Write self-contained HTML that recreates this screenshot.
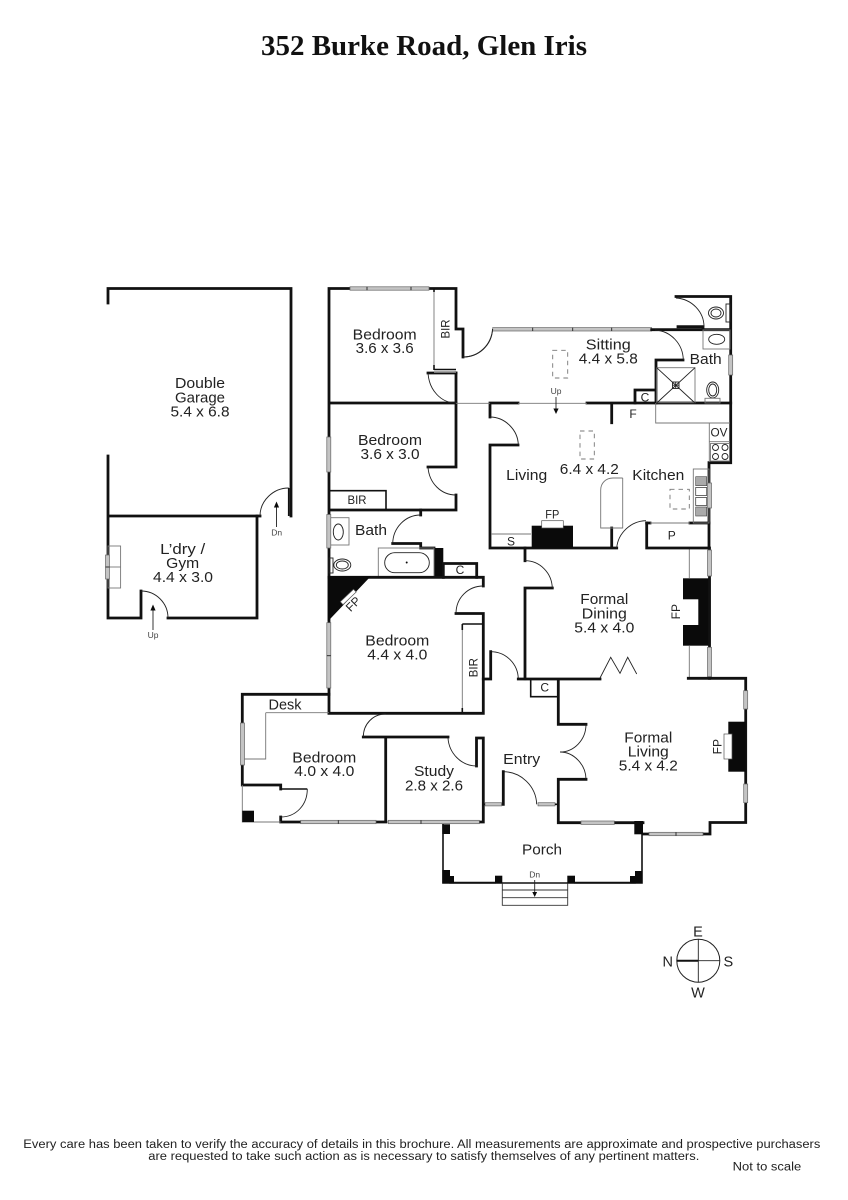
<!DOCTYPE html>
<html lang="en"><head><meta charset="utf-8"><title>352 Burke Road, Glen Iris</title>
<style>
html,body{margin:0;padding:0;background:#fff}
svg{display:block}
text{font-family:"Liberation Sans",sans-serif;fill:#222;text-anchor:middle}
.l{font-size:15px}
.s{font-size:8.5px;fill:#444}
.f{font-size:11.5px;text-anchor:start}
.w{fill:none;stroke:#111;stroke-width:2.8;stroke-linecap:square}
.t{fill:none;stroke:#111;stroke-width:1.6}
.g{fill:none;stroke:#777;stroke-width:.9}
.d{fill:none;stroke:#222;stroke-width:.9}
.dash{fill:none;stroke:#777;stroke-width:.9;stroke-dasharray:4.5 4}
.win{fill:#c4c4c4;stroke:#666;stroke-width:.7}
.b{fill:#0a0a0a}
.o{fill:#fff;stroke:#555;stroke-width:.7}
</style></head><body>
<svg xmlns="http://www.w3.org/2000/svg" width="848" height="1200" viewBox="0 0 848 1200">
<rect width="848" height="1200" fill="#fff"/>
<text x="424" y="55" textLength="326" lengthAdjust="spacingAndGlyphs" style="font-family:'Liberation Serif',serif;font-weight:bold;font-size:28px;fill:#111">352 Burke Road, Glen Iris</text>

<!-- garage + laundry -->
<path class="w" d="M108 303V288.5H291V516M108 456V618H141V591M168 618H257V516H108"/>
<path class="w" d="M257 516H260"/>
<path class="d" d="M288.7 488C273 488 260 501 260 516M141 591C156 591 168 603 168 618"/>
<path class="t" d="M288.7 488V516"/>
<rect class="g" x="108" y="546" width="12.6" height="42"/><path class="g" d="M108 567H120.6"/>
<rect class="win" x="105.5" y="555" width="4" height="24"/><path class="d" d="M105.5 567H109.5"/>
<path class="d" d="M276.5 506V527M153 609V630"/>
<path class="b" d="M276.5 501.5l-2.6 6h5.2zM153 604.5l-2.6 6h5.2z"/>

<!-- bedroom 1 / 2 west -->
<path class="w" d="M329 713V288.5H456V329H463V357M329 403H456V467H428M456 495V510H329M456 373H428"/>
<path class="w" d="M456 403V373"/>
<path class="g" d="M434 288.5V369M434 372.5H456"/>
<path class="t" d="M434 369.5H456M434 288.5V292M434 365V370"/>
<path class="d" d="M463 357C479 357 492 345 492.5 329M428 373C429 390 441 403 456 403M428 467C429 483 441 495 456 495"/>
<rect class="win" x="350" y="286.8" width="79" height="3.4"/><path class="d" d="M367 286.8v3.4M411 286.8v3.4"/>
<rect class="win" x="326.8" y="437" width="4" height="35"/>
<path class="t" d="M329 490.7H386V510"/>

<!-- bath -->
<path class="w" d="M420.7 510V515M392.7 543.5H420.7V548H434"/>
<path class="d" d="M420.7 515C405 515 393 528 392.7 543.5"/>
<rect class="b" x="434" y="548" width="9.3" height="29"/>
<rect class="g" x="378.3" y="548" width="55.7" height="28.5"/>
<rect class="d" x="384.7" y="552.7" width="44.6" height="20" rx="10"/>
<circle class="b" cx="406.7" cy="562.5" r="1"/>
<rect class="g" x="329" y="517.7" width="20" height="27.3"/>
<ellipse class="d" cx="338.3" cy="532" rx="5" ry="8"/>
<rect class="win" x="326.8" y="514.5" width="4" height="33.5"/>
<ellipse class="d" cx="342.3" cy="565" rx="8.5" ry="6"/><ellipse class="d" cx="342.3" cy="565" rx="6" ry="4"/>
<rect class="d" x="329" y="558" width="4" height="15"/>
<path class="w" d="M443.3 577.3V563.5H476.7V577.3"/>

<!-- bedroom 3 -->
<path class="w" d="M329 577.3H483.3V586M456 613.5H483.3V713.3H329"/>
<path class="d" d="M483.3 586C468 586 456 598 456 613.5"/>
<path class="g" d="M462.3 624V713"/>
<path class="t" d="M462.3 624H483M462.3 624V630M462.3 708V713"/>
<path class="b" d="M327.7 576H371L327.7 621.5z"/>
<path class="o" d="M340.3 601.7L353.5 589.2L356.2 592L343 604.6z"/>
<rect class="win" x="326.8" y="622.7" width="4" height="65.3"/><path class="d" d="M326.8 655.7h4"/>

<!-- bedroom 4 / desk -->
<path class="w" d="M329 694.3H242.3V785H280.7V789M280.7 817V822H300M376 822H386M385.7 737V822M363.3 737H448M479.3 822H483.3V738H476.5V766"/>
<path class="g" d="M265.7 712.7H329M265.7 712.7V759H243"/>
<path class="d" d="M385.7 714C373 714 363.3 724 363.3 737M448 738C449 753 461 766 476.7 766M280.7 817C296 817 307.3 805 307.3 789M503.3 771.7C521 771.7 536 786 536.7 804.3M490.7 651.7C506 651.7 518 664 518.3 679"/>
<path class="t" d="M280.7 789H307.3"/>
<path class="g" d="M242.3 785V822H280.7"/>
<rect class="b" x="242.3" y="810.7" width="11.7" height="11.3"/>
<rect class="win" x="240.5" y="723" width="4" height="42"/>
<rect class="win" x="300.7" y="820.3" width="75.3" height="3.4"/><path class="d" d="M338.3 820.3v3.4"/>
<rect class="win" x="388.3" y="820.3" width="91" height="3.4"/><path class="d" d="M421 820.3v3.4"/>

<!-- entry -->
<path class="w" d="M503.3 771.7V804.3M483.3 679H490.7V651.7M518.3 679H600M558.3 679V724.3H586M558.3 779.3H586M558.3 779.3V822.7H643"/>
<rect class="win" x="485" y="802.7" width="16.7" height="3.2"/>
<rect class="win" x="538" y="802.7" width="17" height="3.2"/>
<path class="t" d="M555 804.3H558M483.3 804.3H485M501.7 804.3H503.3M530.7 679V696.7H558.3"/>
<path class="d" d="M586 724.3C586 740 574 752 560 752C574 752 586 765 586 779.3"/>
<path class="d" d="M600 678L610.7 657.3L620 673.3L627.7 657.3L636.7 674"/>

<!-- dining -->
<path class="w" d="M525 548V560.7M525 588H552.3M525 588V678.7"/>
<path class="d" d="M525 560.7C540 560.7 552 573 552.3 588.3"/>
<rect class="b" x="683" y="578.3" width="27.7" height="67.4"/>
<rect x="683" y="599.3" width="15.3" height="25.7" fill="#fff"/>
<path class="g" d="M689.3 548V578M689.3 646V678"/>
<path class="w" d="M709.5 548V678.3"/>
<rect class="win" x="707.5" y="550" width="4" height="26"/>
<rect class="win" x="707.5" y="647.3" width="4" height="29.4"/>

<!-- formal living -->
<path class="w" d="M688.3 678.3H745.7V822.5H710V834H643"/>
<rect class="b" x="634.3" y="821" width="8.7" height="13.3"/>
<rect class="win" x="581" y="821" width="33.3" height="3.4"/>
<rect class="win" x="649" y="832.3" width="54" height="3.4"/><path class="d" d="M676 832.3v3.4"/>
<rect class="win" x="743.7" y="690.7" width="4" height="18.3"/>
<rect class="win" x="743.7" y="784" width="4" height="18.7"/>
<rect class="b" x="728.3" y="721.7" width="17.4" height="50"/>
<rect class="o" x="724" y="734" width="8" height="25"/>

<!-- sitting -->
<path class="w" d="M490 403H518M587 403H730.7M490 403V417M490 445H518M490 445V548H616.7M646.7 523V548H709M611.7 403V422.7M611.7 528V548"/>
<path class="w" d="M646.7 523H650M690 523H709"/>
<path class="g" d="M456 403.3H490M518 403.3H587"/>
<rect class="win" x="492.7" y="327.6" width="159" height="3.4"/><path class="d" d="M532.7 327.6v3.4M572.7 327.6v3.4M611.7 327.6v3.4"/>
<path class="d" d="M490 417C505 417 518 430 518.3 445M492.7 329C491 345 479 357 463 357"/>
<path class="w" d="M651.7 329.7H730.7M678 326.7H703V329M656 360H683M656 360V403M635 403V390H656M676 296.5H730.7V462.7H709V548"/>
<path class="d" d="M655 330C671 331 683 344 683.3 360M676 298C692 299 704 312 704 326.7"/>
<ellipse class="d" cx="716" cy="313" rx="7.5" ry="6"/><ellipse class="d" cx="716" cy="313" rx="5" ry="4"/>
<rect class="d" x="726" y="304" width="4" height="18"/>
<rect class="g" x="703" y="330" width="27" height="19"/>
<ellipse class="d" cx="716.7" cy="339.3" rx="8" ry="5"/>
<rect class="win" x="728.7" y="355" width="4" height="20"/>
<rect class="g" x="656.7" y="367.7" width="38.3" height="35"/>
<path class="d" d="M656.7 367.7L695 403M695 367.7L656.7 403"/>
<rect class="d" x="672.5" y="382" width="6.5" height="6.5"/><path class="d" d="M675.7 382v6.5M672.5 385.2h6.5"/>
<ellipse class="d" cx="712.7" cy="390" rx="6" ry="8"/><ellipse class="d" cx="712.7" cy="390" rx="4" ry="6"/>
<rect class="g" x="705" y="398.3" width="15" height="4.7"/>
<rect class="dash" x="552.7" y="350.3" width="15" height="27.7"/>
<rect class="dash" x="580" y="431" width="14.3" height="28"/>
<rect class="dash" x="670" y="489.3" width="19.3" height="19.7"/>

<!-- living / kitchen fixtures -->
<path class="g" d="M655.7 403V423H730M709.3 423V462M709.3 441.7H730M491 534H531M650 523H690"/>
<rect class="b" x="531.7" y="525.7" width="41.3" height="22.3"/>
<rect class="o" x="541.7" y="520.7" width="21.6" height="7.3"/>
<path class="g" d="M622.7 478V528H600.7V490C600.7 483 606 478 613 478H622.7"/>
<path class="d" d="M616.7 548C618 533 631 521 646 520.7"/>
<circle class="d" cx="715.5" cy="447.5" r="3"/><circle class="d" cx="725" cy="447.5" r="3"/><circle class="d" cx="715.5" cy="456.5" r="3"/><circle class="d" cx="725" cy="456.5" r="3"/>
<rect class="g" x="710.5" y="443.5" width="19" height="17.5"/>
<rect class="g" x="693.3" y="469" width="15.7" height="54"/>
<rect x="695.7" y="476.7" width="11" height="9" fill="#aaa" stroke="#444" stroke-width=".6"/>
<rect x="695.7" y="487.5" width="11" height="8" fill="#fff" stroke="#444" stroke-width=".8"/>
<rect x="695.7" y="497.5" width="11" height="8" fill="#fff" stroke="#444" stroke-width=".8"/>
<rect x="695.7" y="507" width="11" height="9" fill="#aaa" stroke="#444" stroke-width=".6"/>
<rect class="win" x="707.5" y="483" width="4" height="25"/>
<path class="d" d="M556 397V409"/><path class="b" d="M556 414l-2.6-5.5h5.2z"/>

<!-- porch -->
<path class="t" d="M443 824V883H642V834M502.3 883H567.7"/>
<path class="w" d="M450 882.7H495M575 882.7H635" style="stroke-width:1.8"/>
<path class="g" d="M502.3 883V905.3H567.7V883" style="stroke:#333"/><path class="g" d="M502.3 890H567.7M502.3 897.7H567.7" style="stroke:#333"/>
<rect class="b" x="442.3" y="824.3" width="7.7" height="9.7"/>
<rect class="b" x="442.3" y="870" width="7.7" height="13.4"/><rect class="b" x="450" y="876" width="4" height="7.4"/>
<rect class="b" x="495" y="875.7" width="7.3" height="7.7"/>
<rect class="b" x="567.3" y="875.7" width="7.7" height="7.7"/>
<rect class="b" x="635" y="871" width="7.3" height="12.4"/><rect class="b" x="630" y="876" width="5" height="7.4"/>
<path class="d" d="M534.7 880V893"/><path class="b" d="M534.7 897l-2.4-5h4.8z"/>

<!-- compass -->
<circle class="d" cx="698.3" cy="960.7" r="21.5" style="stroke-width:1"/>
<path class="d" d="M698.3 939.2V982.2M676.8 960.7H719.8"/>
<path class="t" d="M677 960.7H698.3" style="stroke-width:2"/>

<!-- labels -->
<text class="l" x="200" y="388" textLength="50" lengthAdjust="spacingAndGlyphs">Double</text>
<text class="l" x="200" y="402.3" textLength="50" lengthAdjust="spacingAndGlyphs">Garage</text>
<text class="l" x="200" y="416.7" textLength="59" lengthAdjust="spacingAndGlyphs">5.4 x 6.8</text>
<text class="l" x="182.7" y="554" textLength="45" lengthAdjust="spacingAndGlyphs">L’dry /</text>
<text class="l" x="182.7" y="568" textLength="33" lengthAdjust="spacingAndGlyphs">Gym</text>
<text class="l" x="183" y="582" textLength="60" lengthAdjust="spacingAndGlyphs">4.4 x 3.0</text>
<text class="s" x="153" y="638">Up</text>
<text class="s" x="276.7" y="535.7">Dn</text>
<text class="l" x="384.7" y="339.3" textLength="64" lengthAdjust="spacingAndGlyphs">Bedroom</text>
<text class="l" x="384.7" y="353" textLength="58" lengthAdjust="spacingAndGlyphs">3.6 x 3.6</text>
<text x="0" y="0" transform="translate(449.5 329) rotate(-90)" style="font-size:12px" textLength="19" lengthAdjust="spacingAndGlyphs">BIR</text>
<text class="l" x="390" y="445" textLength="64" lengthAdjust="spacingAndGlyphs">Bedroom</text>
<text class="l" x="390" y="459" textLength="59" lengthAdjust="spacingAndGlyphs">3.6 x 3.0</text>
<text x="357" y="504" style="font-size:12px" textLength="19" lengthAdjust="spacingAndGlyphs">BIR</text>
<text class="l" x="371" y="535" textLength="32" lengthAdjust="spacingAndGlyphs">Bath</text>
<text x="460" y="574" style="font-size:12px">C</text>
<text x="0" y="0" transform="translate(356 607) rotate(-45)" style="font-size:12px">FP</text>
<text class="l" x="397.3" y="645.7" textLength="64" lengthAdjust="spacingAndGlyphs">Bedroom</text>
<text class="l" x="397.3" y="659.3" textLength="60" lengthAdjust="spacingAndGlyphs">4.4 x 4.0</text>
<text x="0" y="0" transform="translate(477.5 667.7) rotate(-90)" style="font-size:12px" textLength="19" lengthAdjust="spacingAndGlyphs">BIR</text>
<text class="l" x="285" y="709.3" textLength="33" lengthAdjust="spacingAndGlyphs">Desk</text>
<text class="l" x="324.3" y="762.3" textLength="64" lengthAdjust="spacingAndGlyphs">Bedroom</text>
<text class="l" x="324.3" y="776" textLength="60" lengthAdjust="spacingAndGlyphs">4.0 x 4.0</text>
<text class="l" x="434" y="776" textLength="40" lengthAdjust="spacingAndGlyphs">Study</text>
<text class="l" x="434" y="790.7" textLength="58" lengthAdjust="spacingAndGlyphs">2.8 x 2.6</text>
<text class="l" x="521.7" y="764" textLength="37" lengthAdjust="spacingAndGlyphs">Entry</text>
<text class="l" x="604.3" y="604" textLength="48" lengthAdjust="spacingAndGlyphs">Formal</text>
<text class="l" x="604.3" y="618.3" textLength="45" lengthAdjust="spacingAndGlyphs">Dining</text>
<text class="l" x="604.3" y="632.3" textLength="60" lengthAdjust="spacingAndGlyphs">5.4 x 4.0</text>
<text class="l" x="648.3" y="742.3" textLength="48" lengthAdjust="spacingAndGlyphs">Formal</text>
<text class="l" x="648.3" y="756.7" textLength="41" lengthAdjust="spacingAndGlyphs">Living</text>
<text class="l" x="648.3" y="770.7" textLength="59" lengthAdjust="spacingAndGlyphs">5.4 x 4.2</text>
<text x="544.7" y="691.5" style="font-size:12px">C</text>
<text x="0" y="0" transform="translate(680 611.7) rotate(-90)" style="font-size:12px">FP</text>
<text x="0" y="0" transform="translate(721.5 746.7) rotate(-90)" style="font-size:12px">FP</text>
<text class="l" x="608.3" y="349.3" textLength="45" lengthAdjust="spacingAndGlyphs">Sitting</text>
<text class="l" x="608.3" y="363.3" textLength="59" lengthAdjust="spacingAndGlyphs">4.4 x 5.8</text>
<text class="l" x="705.7" y="364" textLength="32" lengthAdjust="spacingAndGlyphs">Bath</text>
<text class="l" x="526.7" y="480" textLength="41" lengthAdjust="spacingAndGlyphs">Living</text>
<text class="l" x="589.3" y="474" textLength="59" lengthAdjust="spacingAndGlyphs">6.4 x 4.2</text>
<text class="l" x="658.3" y="480" textLength="52" lengthAdjust="spacingAndGlyphs">Kitchen</text>
<text x="645" y="401.5" style="font-size:12px">C</text>
<text x="633" y="418" style="font-size:12px">F</text>
<text x="671.7" y="539.3" style="font-size:12px">P</text>
<text x="511" y="545.7" style="font-size:12px">S</text>
<text x="552.3" y="518.7" style="font-size:12px" textLength="14" lengthAdjust="spacingAndGlyphs">FP</text>
<text x="719" y="436.7" style="font-size:12px" textLength="17" lengthAdjust="spacingAndGlyphs">OV</text>
<text class="s" x="556" y="394">Up</text>
<text class="l" x="542" y="854.3" textLength="40" lengthAdjust="spacingAndGlyphs">Porch</text>
<text class="s" x="534.7" y="877.7">Dn</text>
<text x="698" y="936.5" style="font-size:14.5px">E</text>
<text x="667.7" y="966.5" style="font-size:14.5px">N</text>
<text x="728.3" y="966.5" style="font-size:14.5px">S</text>
<text x="698" y="997.5" style="font-size:14.5px">W</text>

<text class="f" x="23.3" y="1148" textLength="797" lengthAdjust="spacingAndGlyphs">Every care has been taken to verify the accuracy of details in this brochure.  All measurements are approximate and prospective purchasers</text>
<text class="f" x="148.3" y="1160" textLength="551" lengthAdjust="spacingAndGlyphs">are requested to take such action as is necessary to satisfy themselves of any pertinent matters.</text>
<text class="f" x="732.7" y="1170.7" textLength="68.5" lengthAdjust="spacingAndGlyphs">Not to scale</text>
</svg>
</body></html>
